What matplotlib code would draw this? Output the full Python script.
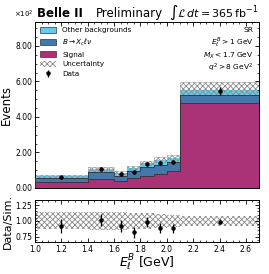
import numpy as np
import matplotlib
matplotlib.use("Agg")
import matplotlib.pyplot as plt
from matplotlib.ticker import FuncFormatter, MultipleLocator, AutoMinorLocator
from matplotlib.patches import Patch

# ---- data ----
bin_edges = [1.0, 1.4, 1.6, 1.7, 1.8, 1.9, 2.0, 2.1, 2.7]
bin_centers = [1.2, 1.5, 1.65, 1.75, 1.85, 1.95, 2.05, 2.4]
signal = [32, 51, 39, 55, 68, 81, 96, 477]
bxclnu = [23, 37, 30, 40, 50, 49, 49, 47]
other_bkg = [10, 18, 15, 15, 20, 27, 22, 29]
data = [60, 107, 77, 90, 135, 139, 148, 548]
data_err = [7, 10, 8, 9, 11, 12, 12, 22]
rel_unc = [0.135, 0.14, 0.14, 0.13, 0.12, 0.11, 0.10, 0.075]
legend_labels = ["Other backgrounds", r"$B\to X_c \ell \nu$", "Signal", "Uncertainty", "Data"]
selection_lines = ["SR", r"$E_\ell^B > 1$ GeV", r"$M_X < 1.7$ GeV", r"$q^2 > 8$ GeV$^2$"]
colors = {"other": "#66CCEE", "bxc": "#4477AA", "sig": "#AA3377"}

plt.rcParams["hatch.linewidth"] = 0.6

edges = np.array(bin_edges)
sig = np.array(signal, float)
bxc = np.array(bxclnu, float)
oth = np.array(other_bkg, float)
tot = sig + bxc + oth
dat = np.array(data, float)
derr = np.array(data_err, float)
ru = np.array(rel_unc)

def ext(a):
    return np.append(a, a[-1])

fig = plt.figure(figsize=(2.69, 2.74), dpi=100)
ax = fig.add_axes([0.130, 0.314, 0.833, 0.606])
rax = fig.add_axes([0.130, 0.115, 0.833, 0.155], sharex=ax)

# stack
ax.fill_between(edges, 0, ext(sig), step="post", color=colors["sig"], lw=0, zorder=3)
ax.fill_between(edges, ext(sig), ext(sig + bxc), step="post", color=colors["bxc"], lw=0, zorder=3)
ax.fill_between(edges, ext(sig + bxc), ext(tot), step="post", color=colors["other"], lw=0, zorder=1)
ax.stairs(sig, edges, color="#333333", lw=0.6, zorder=4)
ax.stairs(sig + bxc, edges, color="#333333", lw=0.6, zorder=4)
# uncertainty band
ax.fill_between(edges, ext(tot * (1 - ru)), ext(tot * (1 + ru)), step="post",
                facecolor="none", edgecolor="#8a8a8a", hatch="xxxxxx", lw=0, zorder=2)
ax.stairs(tot * (1 + ru), edges, color="#aaaaaa", lw=0.4, zorder=2)
# data
ax.errorbar(bin_centers, dat, yerr=derr, fmt="o", color="black", ms=2.2, elinewidth=0.9,
            capsize=0, zorder=5)

ax.set_xlim(1.0, 2.7)
ax.set_ylim(0, 935)
ax.yaxis.set_major_locator(MultipleLocator(200))
ax.yaxis.set_minor_locator(AutoMinorLocator(4))
ax.yaxis.set_major_formatter(FuncFormatter(lambda v, p: f"{v/100:.2f}"))
ax.set_ylabel("Events", fontsize=8.5, labelpad=2)
plt.setp(ax.get_xticklabels(), visible=False)

# titles
fig.text(0.125, 0.937, r"$\times10^2$", fontsize=5, ha="right", va="baseline")
fig.text(0.137, 0.937, "Belle II", fontsize=8.5, fontweight="bold", ha="left", va="baseline")
fig.text(0.355, 0.937, "Preliminary", fontsize=8.5, ha="left", va="baseline")
fig.text(0.963, 0.937, r"$\int\mathcal{L}\,dt = 365\,\mathrm{fb}^{-1}$", fontsize=8, ha="right", va="baseline")

# selection text
for line, yb in zip(selection_lines, [0.940, 0.862, 0.784, 0.706]):
    ax.text(0.975, yb, line, transform=ax.transAxes, ha="right", va="baseline", fontsize=5.4)

handles = [
    Patch(facecolor=colors["other"], edgecolor="#333333", lw=0.5),
    Patch(facecolor=colors["bxc"], edgecolor="#333333", lw=0.5),
    Patch(facecolor=colors["sig"], edgecolor="#333333", lw=0.5),
    Patch(facecolor="white", edgecolor="#8a8a8a", hatch="xxxxxx", lw=0),
    ax.errorbar([], [], yerr=[], fmt="o", color="black", ms=2.2, elinewidth=0.9),
]
ax.legend(handles, legend_labels, loc="upper left", fontsize=5.2, frameon=False,
          handlelength=2.2, handleheight=0.9, labelspacing=0.45, borderaxespad=0.3,
          handletextpad=0.9)

# ratio
ratio = dat / tot
rerr = derr / tot
rax.fill_between(edges, ext(1 - ru), ext(1 + ru), step="post",
                 facecolor="none", edgecolor="#8a8a8a", hatch="xxxxxx", lw=0, zorder=1)
rax.errorbar(bin_centers, ratio, yerr=rerr, fmt="o", color="black", ms=2.2, elinewidth=0.9,
             capsize=0, zorder=5)
rax.set_ylim(0.66, 1.33)
rax.set_yticks([0.75, 1.0, 1.25])
rax.yaxis.set_major_formatter(FuncFormatter(lambda v, p: f"{v:.2f}"))
rax.yaxis.set_minor_locator(AutoMinorLocator(5))
rax.set_xticks(np.arange(1.0, 2.61, 0.2))
rax.xaxis.set_major_formatter(FuncFormatter(lambda v, p: f"{v:.1f}"))
rax.xaxis.set_minor_locator(AutoMinorLocator(4))
rax.set_ylabel("Data/Sim.", fontsize=8, labelpad=2)
rax.set_xlabel(r"$E_\ell^B$ [GeV]", fontsize=9, labelpad=-1)

for a in (ax, rax):
    a.tick_params(which="both", direction="in", top=True, right=True, labelsize=5.5, pad=2)
    a.tick_params(which="major", length=3, width=0.6)
    a.tick_params(which="minor", length=1.5, width=0.5)
    for s in a.spines.values():
        s.set_linewidth(0.7)

fig.savefig("out.png", dpi=100)
